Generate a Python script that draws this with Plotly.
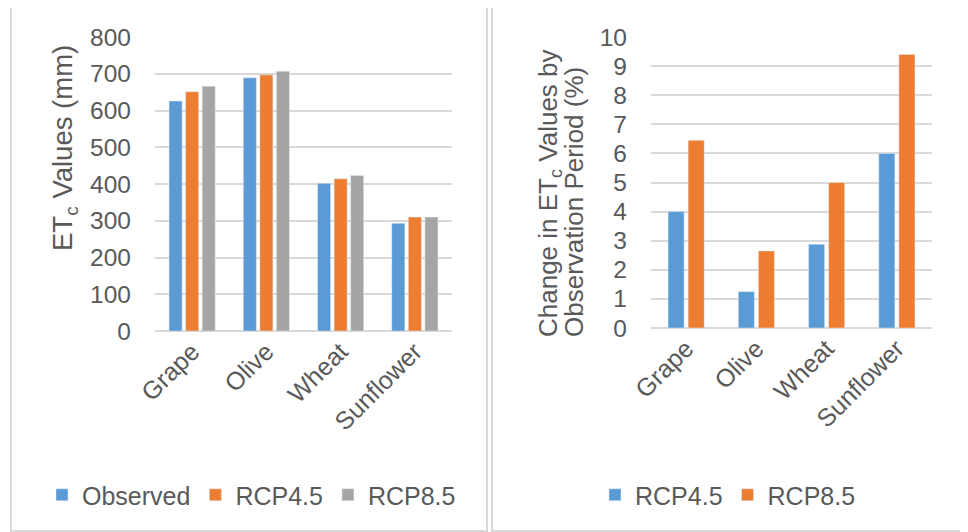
import plotly.graph_objects as go

crops = ["Grape", "Olive", "Wheat", "Sunflower"]
etc_observed = [626, 689, 402, 293]
etc_rcp45 = [651, 697, 414, 310]
etc_rcp85 = [666, 707, 423, 310]
chg_rcp45 = [4.0, 1.25, 2.88, 6.0]
chg_rcp85 = [6.45, 2.65, 5.0, 9.4]
left_ticks = [0, 100, 200, 300, 400, 500, 600, 700, 800]
right_ticks = list(range(0, 11))
left_title = "ET<sub>c</sub> Values (mm)"
right_title_lines = ["Change in ET<sub>c</sub> Values by", "Observation Period (%)"]

BLUE, ORANGE, GRAY = "#5B9BD5", "#ED7D31", "#A5A5A5"
TXT = "#595959"
GRID = "#D9D9D9"
# page body has an 8px margin, so the figure is drawn 8px in from the window edge
OFF = 8
W, H = 968 - OFF, 532 - OFF
FONT = "Liberation Sans, Arial, sans-serif"

fig = go.Figure()

# left panel: 3 bars per category
lw = 0.176
lstep = 0.223
for i, (name, vals, col) in enumerate([("Observed", etc_observed, BLUE),
                                        ("RCP4.5", etc_rcp45, ORANGE),
                                        ("RCP8.5", etc_rcp85, GRAY)]):
    fig.add_trace(go.Bar(x=crops, y=vals, name=name, marker_color=col,
                         width=lw, offset=(i - 1) * lstep - lw / 2,
                         xaxis="x", yaxis="y", legend="legend"))

# right panel: 2 bars per category
rw = 0.229
rstep = 0.143
for i, (name, vals, col) in enumerate([("RCP4.5", chg_rcp45, BLUE),
                                        ("RCP8.5", chg_rcp85, ORANGE)]):
    fig.add_trace(go.Bar(x=crops, y=vals, name=name, marker_color=col,
                         width=rw, offset=(i * 2 - 1) * rstep - rw / 2,
                         xaxis="x2", yaxis="y2", legend="legend2"))

def px(x):
    return (x - OFF) / W

def py(y):
    return 1 - (y - OFF) / H

xfont = dict(family=FONT, size=25, color=TXT)
yfont = dict(family=FONT, size=24.5, color=TXT)
tfont = dict(family=FONT, size=26, color=TXT)
common_x = dict(type="category", range=[-0.5, 3.5], tickangle=-45, showgrid=False,
                showline=False, zeroline=False, tickfont=xfont, ticks="",
                automargin=False)
common_y = dict(showgrid=True, gridcolor=GRID, gridwidth=1.5, zeroline=True,
                zerolinecolor=GRID, zerolinewidth=1.5, showline=False,
                tickfont=yfont, ticks="", ticklabelstandoff=23, automargin=False)

annotations = [
    dict(text=left_title, xref="paper", yref="paper", x=px(64), y=py(148),
         xanchor="center", yanchor="middle", textangle=-90, showarrow=False,
         font=dict(family=FONT, size=27.5, color=TXT)),
    dict(text=right_title_lines[0], xref="paper", yref="paper", x=px(549), y=py(339),
         xanchor="center", yanchor="bottom", textangle=-90, showarrow=False,
         font=tfont),
    dict(text=right_title_lines[1], xref="paper", yref="paper", x=px(574), y=py(339),
         xanchor="center", yanchor="bottom", textangle=-90, showarrow=False,
         font=tfont),
]

fig.update_layout(
    width=W, height=H,
    margin=dict(l=0, r=0, t=0, b=0, pad=0),
    paper_bgcolor="white", plot_bgcolor="white",
    font=dict(family=FONT, color=TXT),
    barmode="overlay",
    xaxis=dict(domain=[px(155), px(452)], anchor="y", **common_x),
    yaxis=dict(domain=[py(331), py(37)], anchor="x", range=[0, 800],
               tickvals=left_ticks, **common_y),
    xaxis2=dict(domain=[px(651), px(932)], anchor="y2", **common_x),
    yaxis2=dict(domain=[py(328), py(37)], anchor="x2", range=[0, 10],
                tickvals=right_ticks, **common_y),
    legend=dict(orientation="h", x=px(42), y=py(495), xanchor="left", yanchor="middle",
                font=dict(family=FONT, size=25, color=TXT), bgcolor="rgba(0,0,0,0)",
                itemclick=False),
    legend2=dict(orientation="h", x=px(595), y=py(495), xanchor="left", yanchor="middle",
                 font=dict(family=FONT, size=25, color=TXT), bgcolor="rgba(0,0,0,0)",
                 itemclick=False),
    annotations=annotations,
    shapes=[
        dict(type="rect", xref="paper", yref="paper", x0=px(11), x1=px(487),
             y0=py(531), y1=py(5), line=dict(color=GRID, width=2)),
        dict(type="rect", xref="paper", yref="paper", x0=px(492), x1=px(964),
             y0=py(531), y1=py(5), line=dict(color=GRID, width=2)),
    ],
)

fig.write_html("out.html")
